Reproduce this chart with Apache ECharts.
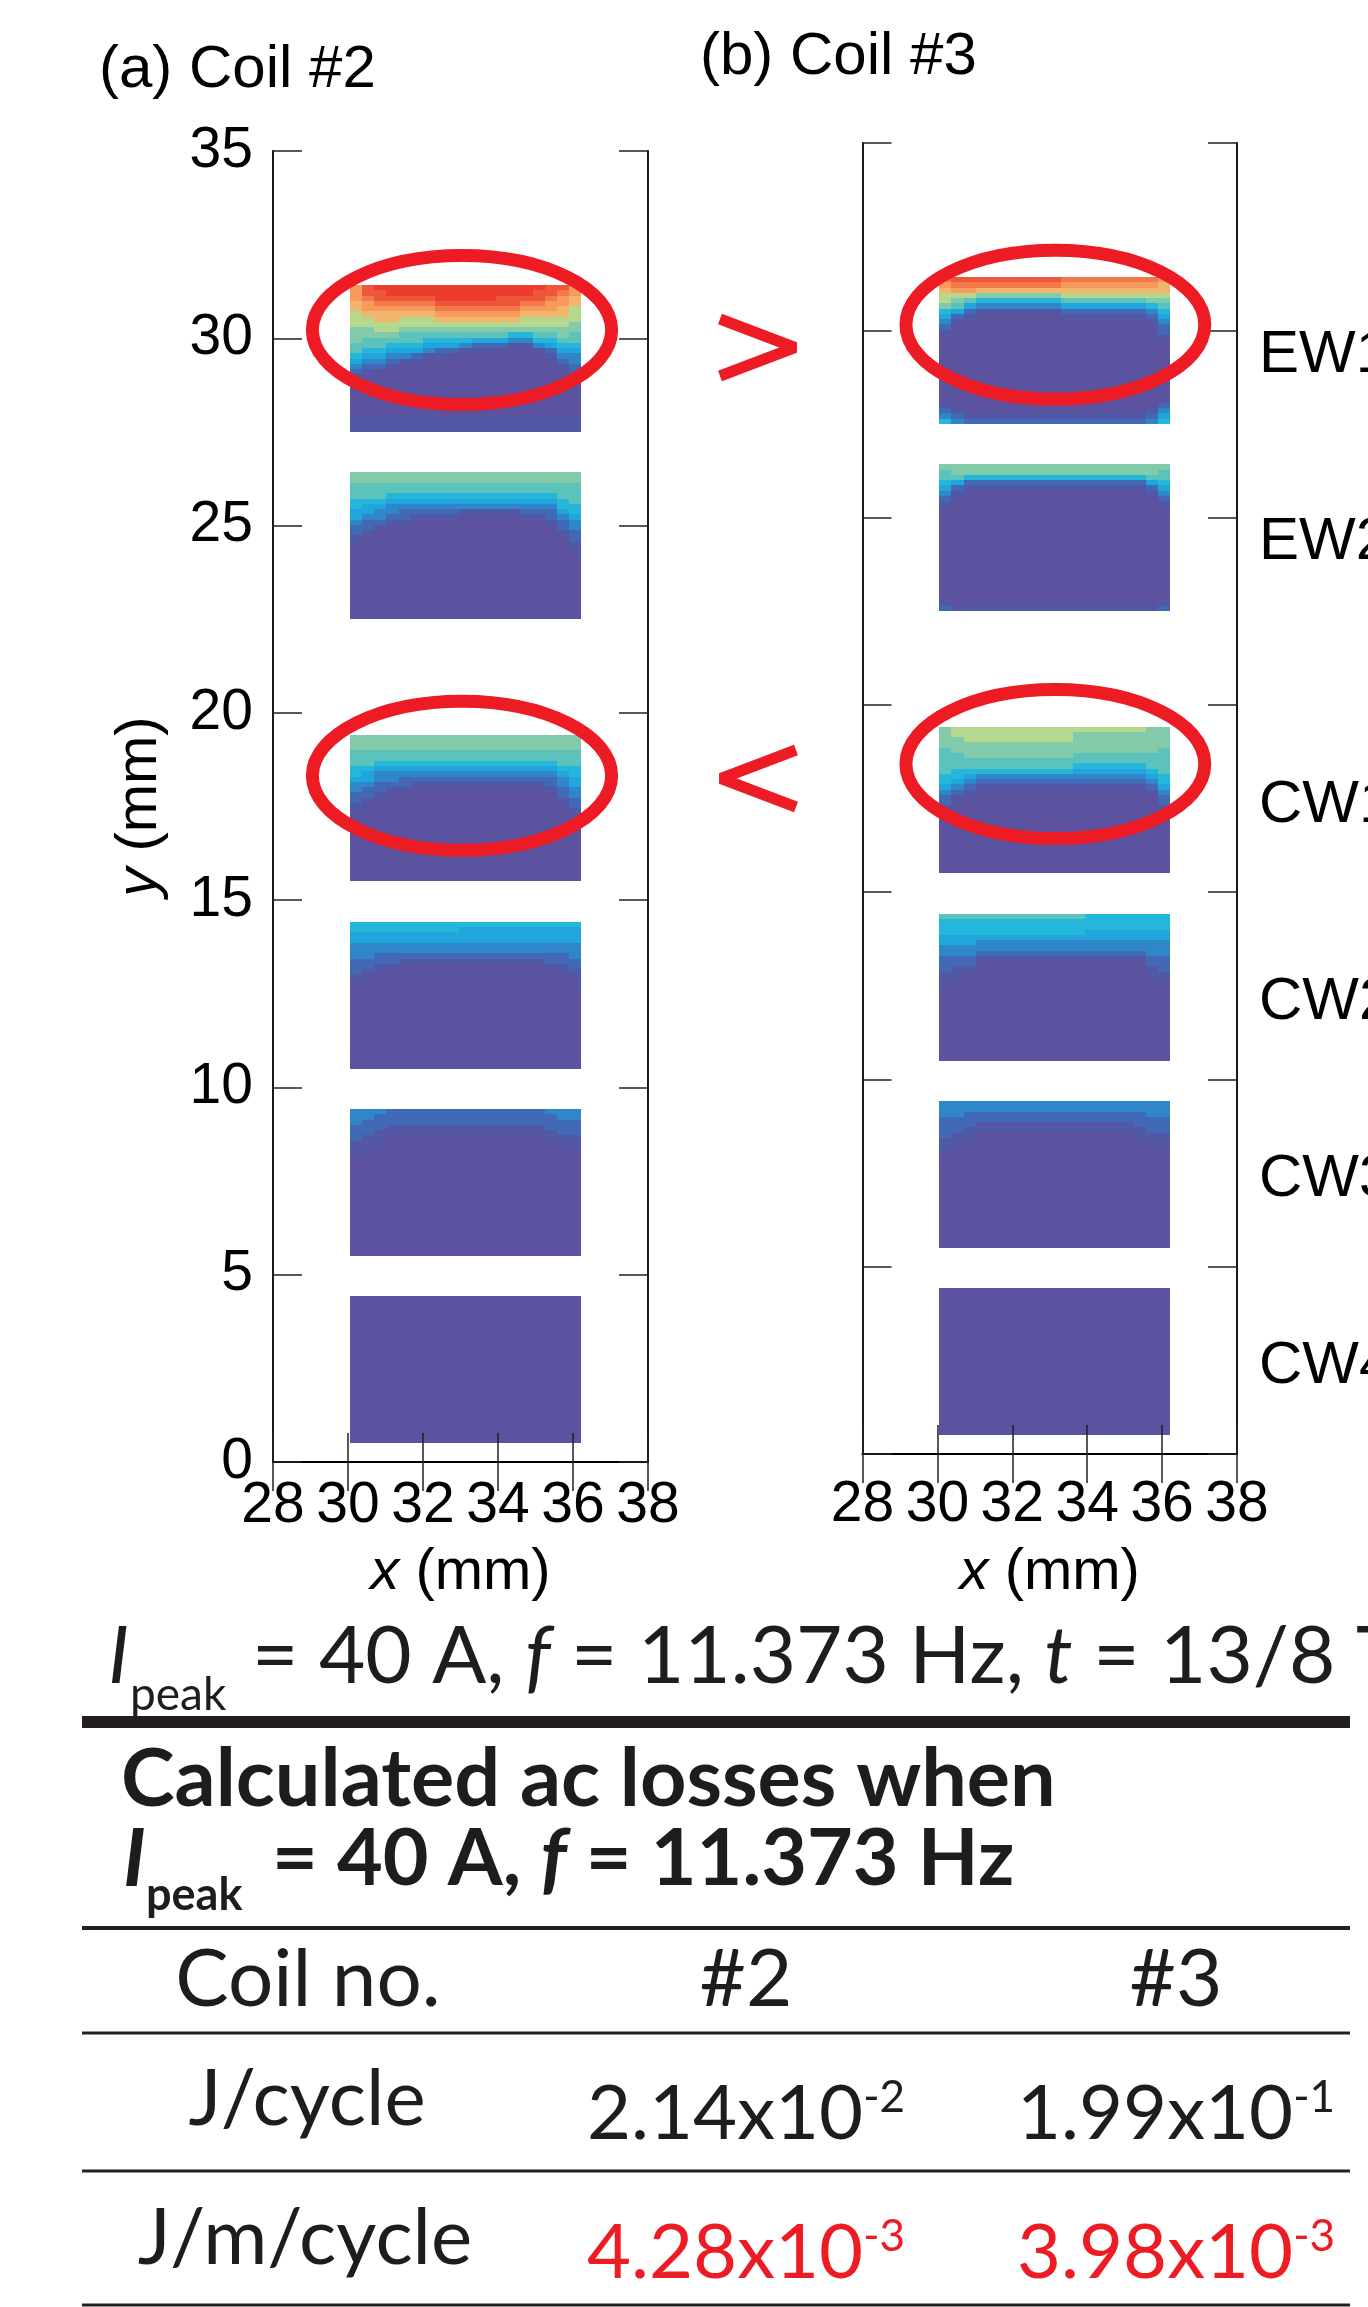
<!DOCTYPE html>
<html><head><meta charset="utf-8">
<script src="https://cdn.jsdelivr.net/npm/echarts@6/dist/echarts.min.js"></script>
<style>html,body{margin:0;padding:0;background:#fff}#c{width:1368px;height:2307px}</style>
</head><body><div id="c"></div>
<script>
// ================= DATA =================
const xTicks = [28, 30, 32, 34, 36, 38];
const yTicks = [0, 5, 10, 15, 20, 25, 30, 35];
const panelTitles = ['(a) Coil #2', '(b) Coil #3'];
const pancakeNames = ['EW1', 'EW2', 'CW1', 'CW2', 'CW3', 'CW4'];
const pancakeNameY = [29.46, 24.46, 17.46, 12.2, 7.46, 2.46];   // mm, label anchor
const pancakeBottoms = [27.5, 22.5, 15.5, 10.5, 5.5, 0.5];   // mm
const pancakeHeight = 3.92;                                    // mm
const tapeX = [30.05, 36.22];                                  // mm
const N_ROWS = 28;
// current-density level per cell, '0' (none) ... 'D' (highest)
// one string per column (x), listed top -> bottom; "top|bottom", rows in between read as '0'
const LEVEL_CODES = '0123456789ABCD';

const coil2_EW1 = [
  'AAA998887776654321|111', 'CCBAA988776654321|111', 'DCCBA99887665432|111', 'DDCBA99887654321|111',
  'DDCBA9887665431|111', 'DDCBA9887665421|111', 'DDCBA988765431|111', 'DDDCBA98765421|111',
  'DDDCBA9876542|111', 'DDDCBA9876531|111', 'DDDCBA9876421|111', 'DDDCBA987642|111',
  'DDCCBA987642|111', 'DDCCBA987531|111', 'DDCBA9887531|111', 'DCCBA98876531|111',
  'CCBAA988765421|111', 'CBAA998877654321|111', 'AA9988877665433221|111'];
const coil2_EW2 = [
  '77666554432211', '776665443221', '77666543321', '7766543321', '7766543221',
  '776654321', '776654321', '776654321', '776654321', '77665431', '77665431',
  '77665431', '77665431', '77665431', '776654321', '776654321', '7766543221',
  '776665543221', '776666554332211'];
const coil2_CW1 = [
  '777666554332211', '7776665443221', '777665433221', '77766543321', '77766543221',
  '7776654321', '7776654321', '7776654321', '7776654321', '7776654321', '7776654321',
  '7776654321', '7776654321', '7776654321', '7776654321', '7776654321', '77766543221',
  '7776665433221', '777666554433221'];
const coil2_CW2 = [
  '554433322211', '55443332211', '5544332211', '554433221', '55443321', '55443321',
  '55443321', '55443321', '55443321', '54443321', '54443321', '54443321', '54443321',
  '54443321', '54443321', '54443321', '544433221', '5444332211', '54443332211'];
const coil2_CW3 = [
  '333222111', '33222111', '3222111', '22211', '22211', '22211', '22211', '22211',
  '22211', '22211', '22211', '22211', '22211', '22211', '22211', '22211', '322211',
  '3322211', '33222111'];
const coil2_CW4 = [
  '0', '0', '0', '0', '0', '0', '0', '0', '0', '0', '0', '0', '0', '0', '0', '0', '0', '0', '0'];

const coil3_EW1 = [
  'BA988754321|1235', 'CBA876421|123', 'CBA86421|12', 'CB97531|12', 'CB97531|12',
  'CB97531|12', 'CB97531|12', 'CB97531|12', 'CB97531|12', 'CB97531|12', 'BA986421|12',
  'BA986421|12', 'BA986421|12', 'BA986421|12', 'BA986421|12', 'BA986421|12', 'BA986421|12',
  'BA9875321|123', 'A99876543221|2345'];
const coil3_EW2 = [
  '76654321|12', '776421|1', '77521|1', '77521|1', '77521|1', '77521|1', '77521|1',
  '77521|1', '77521|1', '77521|1', '77521|1', '77521|1', '77521|1', '77521|1', '77521|1',
  '77521|1', '77521|1', '776421|1', '76654321|12'];
const coil3_CW1 = [
  '7777666665543221', '88777666554321', '8887776654321', '888777665321', '888777665321',
  '888777665321', '888777665321', '888777665321', '888777665321', '888777665321',
  '888777665321', '877776654321', '877776654321', '877776654321', '877776654321',
  '877776654321', '877776654321', '7777766654321', '7777666665543221'];
const coil3_CW2 = [
  '6555443322211', '655544332211', '65554433221', '655543321', '655543321', '655543321',
  '655543321', '655543321', '655543321', '655543321', '655543321', '655543321',
  '555443321', '555443321', '555443321', '555443321', '555443321', '555443332211',
  '5554433322211'];
const coil3_CW3 = [
  '3332222111', '33322211', '3322211', '332211', '332211', '332211', '332211', '332211',
  '332211', '332211', '332211', '332211', '332211', '332211', '332211', '332211',
  '3322211', '33322211', '333222111'];
const coil3_CW4 = [
  '0', '0', '0', '0', '0', '0', '0', '0', '0', '0', '0', '0', '0', '0', '0', '0', '0', '0', '0'];

const coil2Blocks = [coil2_EW1, coil2_EW2, coil2_CW1, coil2_CW2, coil2_CW3, coil2_CW4];
const coil3Blocks = [coil3_EW1, coil3_EW2, coil3_CW1, coil3_CW2, coil3_CW3, coil3_CW4];

// red highlight ellipses (centre x, centre y in mm)
const highlightsA = [[33.04, 30.22], [33.04, 18.32]];
const highlightsB = [[33.15, 30.15], [33.15, 18.42]];
const highlightRadii = [3.99, 1.99]; // mm

// table
const tableTitle = 'Calculated ac losses when';
const coilNos = ['#2', '#3'];
const rowLabels = ['J/cycle', 'J/m/cycle'];
const lossJperCycle = [['2.14', '-2'], ['1.99', '-1']];
const lossJperMperCycle = [['4.28', '-3'], ['3.98', '-3']];

// ================= STYLE =================
const LEVEL_COLORS = ['#5B52A0', '#5158A6', '#4269B5', '#2F87CA', '#20A6DD', '#25B7D9', '#5CC2BC',
  '#82CBAA', '#B5D78E', '#F2B56C', '#F79A5B', '#F37A48', '#F0573A', '#EB3C2E'];
const FONT = '"Liberation Sans", Arial, sans-serif';
const TFONT = 'Lato, "Open Sans", sans-serif';
const INK = '#1d1d1b';
const RED = '#ED1C24';

function expand(col) {
  const parts = col.split('|');
  const top = parts[0], bot = parts[1] || '';
  const mid = Math.max(0, N_ROWS - top.length - bot.length);
  return (top + '0'.repeat(mid) + bot).slice(0, N_ROWS);
}
function cells(blocks) {
  const out = [];
  blocks.forEach((cols, b) => {
    const yTopBlock = pancakeBottoms[b] + pancakeHeight;
    const dy = pancakeHeight / N_ROWS;
    const dx = (tapeX[1] - tapeX[0]) / cols.length;
    cols.forEach((col, c) => {
      const s = expand(col);
      for (let r = 0; r < N_ROWS; r++) {
        const yt = yTopBlock - r * dy;
        out.push([tapeX[0] + c * dx, yt - dy, tapeX[0] + (c + 1) * dx, yt, LEVEL_CODES.indexOf(s[r])]);
      }
    });
  });
  return out;
}
function renderCell(params, api) {
  const p0 = api.coord([api.value(0), api.value(3)]);
  const p1 = api.coord([api.value(2), api.value(1)]);
  const x0 = Math.round(p0[0]), y0 = Math.round(p0[1]);
  const x1 = Math.round(p1[0]), y1 = Math.round(p1[1]);
  return { type: 'rect', shape: { x: x0, y: y0, width: x1 - x0, height: y1 - y0 },
    style: { fill: LEVEL_COLORS[api.value(4)] } };
}
function renderEllipse(params, api) {
  const c = api.coord([api.value(0), api.value(1)]);
  const s = api.size([api.value(2), api.value(3)]);
  return { type: 'ellipse', shape: { cx: c[0], cy: c[1], rx: s[0], ry: s[1] },
    style: { fill: 'none', stroke: RED, lineWidth: 13 } };
}
function renderName(params, api) {
  const p = api.coord([api.value(0), api.value(1)]);
  return { type: 'text', x: p[0] + 22, y: p[1] + 5,
    style: { text: pancakeNames[params.dataIndex], fontSize: 60, fontFamily: FONT, fill: '#000',
      align: 'left', verticalAlign: 'middle' } };
}

const axisLineStyle = { show: true, lineStyle: { color: '#000', width: 1.8 } };
const tickStyle = { show: true, inside: true, length: 29, lineStyle: { color: '#222', width: 1.5 } };
function xAx(grid, pos, labels, margin, gap) {
  return { type: 'value', gridIndex: grid, position: pos, min: xTicks[0], max: xTicks[xTicks.length - 1],
    interval: xTicks[1] - xTicks[0], axisLine: axisLineStyle, axisTick: tickStyle, splitLine: { show: false },
    z: 5,
    axisLabel: { show: labels, fontSize: 57, fontFamily: FONT, color: '#000', margin: margin || 16, showMinLabel: true, showMaxLabel: true },
    name: labels ? '{i|x} (mm)' : '', nameLocation: 'middle', nameGap: gap || 82,
    nameTextStyle: { fontSize: 58, fontFamily: FONT, color: '#000', rich: { i: { fontStyle: 'italic', fontSize: 58, fontFamily: FONT, color: '#000' } } } };
}
function yAx(grid, pos, labels, named) {
  return { type: 'value', gridIndex: grid, position: pos, min: yTicks[0], max: yTicks[yTicks.length - 1],
    interval: yTicks[1] - yTicks[0], axisLine: axisLineStyle, axisTick: tickStyle, splitLine: { show: false },
    z: 5,
    axisLabel: { show: labels, fontSize: 57, fontFamily: FONT, color: '#000', margin: 20, padding: [0, 0, 6, 0] },
    name: named ? '{i|y} (mm)' : '', nameLocation: 'middle', nameGap: 104,
    nameTextStyle: { fontSize: 58, fontFamily: FONT, color: '#000', rich: { i: { fontStyle: 'italic', fontSize: 58, fontFamily: FONT, color: '#000' } } } };
}

function txt(x, y, text, o) {
  o = o || {};
  return { type: 'text', x: x, y: y, z: 20, style: Object.assign({
    text: text, fontSize: 80, fontFamily: TFONT, fill: INK, align: 'left', verticalAlign: 'middle',
    textAlign: o.align || 'left', textVerticalAlign: 'middle' }, o) };
}
function hline(y, w) {
  return { type: 'line', z: 20, shape: { x1: 82, y1: y, x2: 1350, y2: y }, style: { stroke: '#231f20', lineWidth: w } };
}
const supRich = (color) => ({
  m: { fontSize: 76, fontFamily: TFONT, fill: color, color: color },
  e: { fontSize: 44, fontFamily: TFONT, fill: color, color: color, verticalAlign: 'top' }
});
const colX = [746, 1176];

const graphic = [
  txt(99, 70, panelTitles[0], { fontFamily: FONT, fontSize: 60, fill: '#000' }),
  txt(700, 57, panelTitles[1], { fontFamily: FONT, fontSize: 60, fill: '#000' }),
  { type: 'polyline', z: 20, shape: { points: [[720, 319], [795, 347.5], [720, 376]] },
    style: { stroke: RED, lineWidth: 11, lineJoin: 'bevel', fill: 'none' } },
  { type: 'polyline', z: 20, shape: { points: [[796, 750], [721, 778.5], [796, 807]] },
    style: { stroke: RED, lineWidth: 11, lineJoin: 'bevel', fill: 'none' } },
  // condition line
  txt(108, 1657, 'I', { fontStyle: 'italic' }),
  txt(130, 1695, 'peak', { fontSize: 46 }),
  txt(252, 1657, '= 40 A, {i|f} = 11.373 Hz, {i|t} = 13/8 T', { rich: { i: { fontStyle: 'italic', fontSize: 80, fontFamily: TFONT, fill: INK } } }),
  hline(1722, 12),
  // table title
  txt(121, 1780, tableTitle, { fontWeight: 'bold', fontSize: 81 }),
  txt(123, 1860, 'I', { fontWeight: 'bold', fontStyle: 'italic', fontSize: 81 }),
  txt(146, 1895, 'peak', { fontWeight: 'bold', fontSize: 45 }),
  txt(272, 1860, '= 40 A, {i|f} = 11.373 Hz', { fontWeight: 'bold', fontSize: 79,
    rich: { i: { fontStyle: 'italic', fontWeight: 'bold', fontSize: 79, fontFamily: TFONT, fill: INK } } }),
  hline(1928, 4),
  txt(308, 1980, 'Coil no.', { align: 'center' }),
  txt(colX[0], 1980, coilNos[0], { align: 'center' }),
  txt(colX[1], 1980, coilNos[1], { align: 'center' }),
  hline(2033, 3),
  txt(307, 2100, rowLabels[0], { align: 'center', fontSize: 78 }),
  txt(colX[0], 2114, '{m|' + lossJperCycle[0][0] + 'x10}{e|' + lossJperCycle[0][1] + '}', { align: 'center', rich: supRich(INK) }),
  txt(colX[1], 2114, '{m|' + lossJperCycle[1][0] + 'x10}{e|' + lossJperCycle[1][1] + '}', { align: 'center', rich: supRich(INK) }),
  hline(2171, 3),
  txt(305, 2239, rowLabels[1], { align: 'center', fontSize: 78 }),
  txt(colX[0], 2253, '{m|' + lossJperMperCycle[0][0] + 'x10}{e|' + lossJperMperCycle[0][1] + '}', { align: 'center', fill: RED, rich: supRich(RED) }),
  txt(colX[1], 2253, '{m|' + lossJperMperCycle[1][0] + 'x10}{e|' + lossJperMperCycle[1][1] + '}', { align: 'center', fill: RED, rich: supRich(RED) }),
  hline(2305, 3)
];

const chart = echarts.init(document.getElementById('c'), null, { renderer: 'canvas', width: 1368, height: 2307 });
chart.setOption({
  backgroundColor: '#fff',
  animation: false,
  grid: [
    { left: 273, top: 151, width: 375, height: 1311 },
    { left: 862.5, top: 143, width: 374.5, height: 1311 }
  ],
  xAxis: [xAx(0, 'bottom', true, 16, 82), xAx(0, 'top', false), xAx(1, 'bottom', true, 23, 90), xAx(1, 'top', false)],
  yAxis: [yAx(0, 'left', true, true), yAx(0, 'right', false, false), yAx(1, 'left', false, false), yAx(1, 'right', false, false)],
  series: [
    { type: 'custom', xAxisIndex: 0, yAxisIndex: 0, silent: true, z: 2, renderItem: renderCell,
      encode: { x: [0, 2], y: [1, 3] }, data: cells(coil2Blocks) },
    { type: 'custom', xAxisIndex: 2, yAxisIndex: 2, silent: true, z: 2, renderItem: renderCell,
      encode: { x: [0, 2], y: [1, 3] }, data: cells(coil3Blocks) },
    { type: 'custom', xAxisIndex: 0, yAxisIndex: 0, silent: true, z: 10, renderItem: renderEllipse,
      data: highlightsA.map(p => [p[0], p[1], highlightRadii[0], highlightRadii[1]]) },
    { type: 'custom', xAxisIndex: 2, yAxisIndex: 2, silent: true, z: 10, renderItem: renderEllipse,
      data: highlightsB.map(p => [p[0], p[1], highlightRadii[0], highlightRadii[1]]) },
    { type: 'custom', xAxisIndex: 2, yAxisIndex: 2, silent: true, z: 10, renderItem: renderName,
      data: pancakeNameY.map(y => [xTicks[xTicks.length - 1], y]) }
  ],
  graphic: graphic
});
</script></body></html>
